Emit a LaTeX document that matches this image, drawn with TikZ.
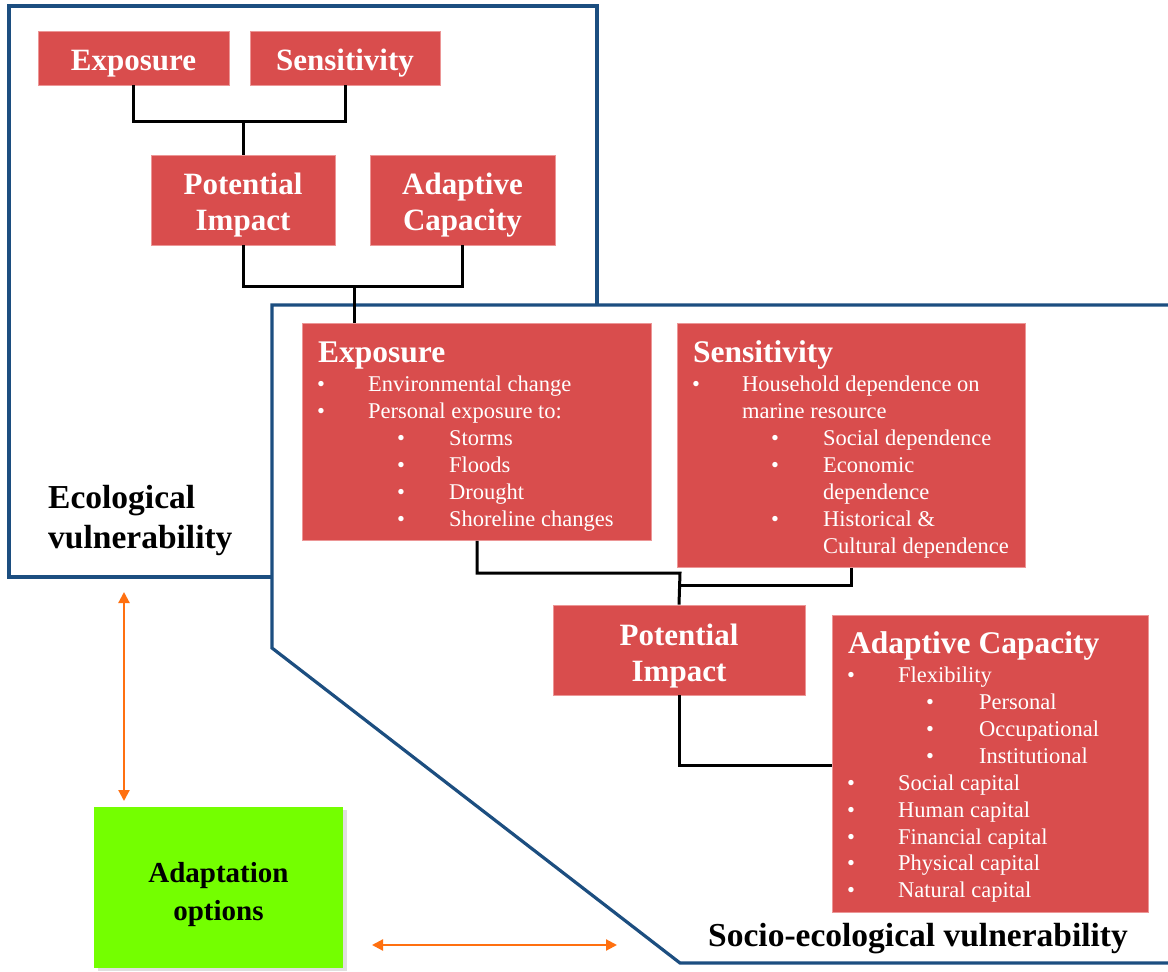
\documentclass[tikz,border=0pt]{standalone}
\usepackage{fontspec}
\setmainfont{Liberation Serif}
\usetikzlibrary{shadows,arrows.meta}
\definecolor{boxred}{RGB}{217,77,77}
\definecolor{boxedge}{RGB}{236,150,150}
\definecolor{frameblue}{RGB}{28,78,128}
\definecolor{arroworange}{RGB}{255,112,16}
\definecolor{optgreen}{RGB}{116,255,0}
\newcommand{\lowtext}[2]{\raisebox{-#1}[\height][\depth]{\begin{tabular}{@{}c@{}}#2\end{tabular}}}
\tikzset{
  redbox/.style={fill=boxred, draw=boxedge, line width=0.8pt, inner sep=0pt, text=white,
    font=\bfseries\fontsize{31}{36}\selectfont},
  bigbox/.style={fill=boxred, draw=boxedge, line width=0.8pt, inner sep=0pt, anchor=north west},
  hdr/.style={anchor=base west, inner sep=0pt, text=white, font=\bfseries\fontsize{31.5}{34}\selectfont},
  item/.style={anchor=base west, inner sep=0pt, text=white, font=\fontsize{22.5}{25}\selectfont},
  conn/.style={draw=black, line width=3pt},
  frame/.style={draw=frameblue, line width=3.2pt},
  oarrow/.style={draw=arroworange, line width=2.2pt, {Triangle[length=11pt,width=11pt]}-{Triangle[length=11pt,width=11pt]}},
  lbl/.style={inner sep=0pt, text=black, font=\bfseries\fontsize{33.5}{40}\selectfont}
}
\begin{document}
\begin{tikzpicture}[x=1pt,y=-1pt]
\useasboundingbox (0,0) rectangle (1168,972);
\fill[white] (0,0) rectangle (1168,972);

% frames
\draw[frame] (272,577) -- (9,577) -- (9,6) -- (597,6) -- (597,305);
\draw[frame] (1170,305) -- (272,305) -- (272,648) -- (680,963) -- (1170,963);

% top (ecological) boxes
\node[redbox, minimum width=191pt, minimum height=54pt] (e1) at (133.5,58) {\lowtext{5pt}{Exposure}};
\node[redbox, minimum width=190pt, minimum height=54pt] (s1) at (345,58) {\lowtext{5pt}{Sensitivity}};
\node[redbox, minimum width=184pt, minimum height=90pt] (p1) at (243,200) {\lowtext{5pt}{Potential\\Impact}};
\node[redbox, minimum width=185pt, minimum height=90pt] (a1) at (462.5,200) {\lowtext{5pt}{Adaptive\\Capacity}};

\coordinate (j1) at (243,121);
\coordinate (j2) at (354,286);
\draw[conn] (e1.south) |- (j1) -| (s1.south);
\draw[conn] (j1) -- (p1.north);
\draw[conn] (p1.south) |- (j2) -| (a1.south);

% socio boxes
\node[bigbox, minimum width=349pt, minimum height=217pt] (e2) at (302,323) {};
\node[bigbox, minimum width=348pt, minimum height=244pt] (s2) at (677,323) {};
\node[redbox, minimum width=252pt, minimum height=90pt] (p2) at (679,650) {\lowtext{6pt}{Potential\\Impact}};
\node[bigbox, minimum width=316pt, minimum height=297pt] (a2) at (832,615) {};

\draw[conn] (j2) -- (e2.north -| j2);

% exposure text
\node[hdr] (e2h) at (318,362) {Exposure};
\node[item] (e2b1) at (317,391) {•};
\node[item] (e2t1) at (368,391) {Environmental change};
\node[item] (e2b2) at (317,418) {•};
\node[item] (e2t2) at (368,418) {Personal exposure to:};
\node[item] (e2b3) at (397,445) {•};
\node[item] (e2t3) at (449,445) {Storms};
\node[item] (e2b4) at (397,472) {•};
\node[item] (e2t4) at (449,472) {Floods};
\node[item] (e2b5) at (397,499) {•};
\node[item] (e2t5) at (449,499) {Drought};
\node[item] (e2b6) at (397,526) {•};
\node[item] (e2t6) at (449,526) {Shoreline changes};

% sensitivity text
\node[hdr] (s2h) at (693,362) {Sensitivity};
\node[item] (s2b1) at (692,391) {•};
\node[item] (s2t1) at (742,391) {Household dependence on};
\node[item] (s2t1b) at (742,418) {marine resource};
\node[item] (s2b2) at (771,445) {•};
\node[item] (s2t2) at (823,445) {Social dependence};
\node[item] (s2b3) at (771,472) {•};
\node[item] (s2t3) at (823,472) {Economic};
\node[item] (s2t3b) at (823,499) {dependence};
\node[item] (s2b4) at (771,526) {•};
\node[item] (s2t4) at (823,526) {Historical \&};
\node[item] (s2t4b) at (823,553) {Cultural dependence};

% adaptive capacity text
\node[hdr] (a2h) at (848,653) {Adaptive Capacity};
\node[item] (a2b1) at (847,682) {•};
\node[item] (a2t1) at (898,682) {Flexibility};
\node[item] (a2b2) at (926,709) {•};
\node[item] (a2t2) at (979,709) {Personal};
\node[item] (a2b3) at (926,736) {•};
\node[item] (a2t3) at (979,736) {Occupational};
\node[item] (a2b4) at (926,763) {•};
\node[item] (a2t4) at (979,763) {Institutional};
\node[item] (a2b5) at (847,790) {•};
\node[item] (a2t5) at (898,790) {Social capital};
\node[item] (a2b6) at (847,817) {•};
\node[item] (a2t6) at (898,817) {Human capital};
\node[item] (a2b7) at (847,844) {•};
\node[item] (a2t7) at (898,844) {Financial capital};
\node[item] (a2b8) at (847,870) {•};
\node[item] (a2t8) at (898,870) {Physical capital};
\node[item] (a2b9) at (847,897) {•};
\node[item] (a2t9) at (898,897) {Natural capital};

% socio connectors
\coordinate (j3) at (680,573);
\coordinate (j4) at (680,585);
\draw[conn] (e2.south -| 477,0) |- (j3) -- (p2.north);
\draw[conn] (s2.south -| 851,0) |- (j4);
\draw[conn] (p2.south) |- (a2.west |- 0,765);

% labels
\node[lbl, anchor=west, align=left] (ecolbl) at (48,520) {Ecological\\vulnerability};
\node[lbl] (sociolbl) at (918,939) {Socio-ecological vulnerability};

% adaptation options
\node[fill=optgreen, inner sep=0pt, minimum width=249pt, minimum height=161pt,
  font=\bfseries\fontsize{29}{38}\selectfont, text=black,
  drop shadow={shadow xshift=4pt, shadow yshift=-3pt, opacity=0.25}] (ad) at (218.5,887.5) {\lowtext{6pt}{Adaptation\\options}};

% orange arrows
\coordinate (v1) at (124,592);
\coordinate (v2) at (124,801);
\coordinate (h1) at (372,945);
\coordinate (h2) at (617,945);
\draw[oarrow] (v1) -- (v2);
\draw[oarrow] (h1) -- (h2);
\end{tikzpicture}
\end{document}
